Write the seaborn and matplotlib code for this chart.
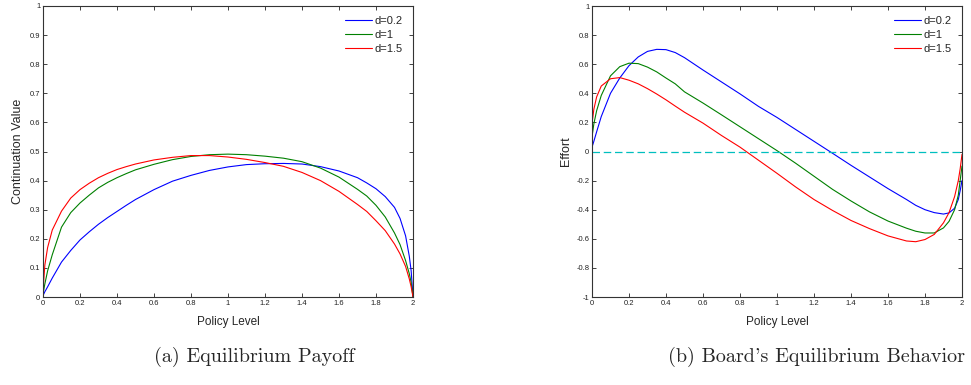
import numpy as np
import pandas as pd
import seaborn as sns
import matplotlib.pyplot as plt

# policy level grid
policy = [0, 0.01, 0.025, 0.05, 0.1, 0.15, 0.2, 0.25, 0.3, 0.35, 0.4, 0.45, 0.5, 0.6,
          0.7, 0.8, 0.9, 1.0, 1.1, 1.2, 1.3, 1.4, 1.5, 1.6, 1.7, 1.75, 1.8, 1.85,
          1.9, 1.93, 1.96, 1.98, 1.99, 2.0]

# (a) continuation value
payoff_d02 = [0.005, 0.018, 0.035, 0.065, 0.12, 0.16, 0.196, 0.224, 0.25, 0.273, 0.294,
              0.315, 0.335, 0.369, 0.398, 0.418, 0.435, 0.447, 0.455, 0.458, 0.459,
              0.457, 0.448, 0.433, 0.41, 0.392, 0.372, 0.345, 0.308, 0.27, 0.21,
              0.14, 0.09, 0.0]
payoff_d1 = [0.01, 0.045, 0.09, 0.145, 0.24, 0.29, 0.323, 0.35, 0.375, 0.394, 0.41,
             0.424, 0.437, 0.456, 0.472, 0.483, 0.489, 0.491, 0.489, 0.484, 0.477,
             0.465, 0.443, 0.412, 0.37, 0.347, 0.315, 0.275, 0.22, 0.18, 0.125,
             0.08, 0.05, 0.0]
payoff_d15 = [0.02, 0.11, 0.17, 0.23, 0.295, 0.34, 0.369, 0.391, 0.41, 0.425, 0.438,
              0.448, 0.457, 0.471, 0.48, 0.486, 0.486, 0.481, 0.473, 0.462, 0.449,
              0.428, 0.4, 0.363, 0.318, 0.294, 0.262, 0.228, 0.182, 0.148, 0.105,
              0.062, 0.035, 0.0]

# (b) board's effort
effort_d02 = [0.03, 0.07, 0.135, 0.24, 0.40, 0.505, 0.59, 0.65, 0.688, 0.702, 0.70,
              0.68, 0.645, 0.56, 0.478, 0.396, 0.31, 0.234, 0.152, 0.07, -0.012,
              -0.095, -0.175, -0.255, -0.33, -0.37, -0.4, -0.42, -0.43, -0.422,
              -0.39, -0.33, -0.27, -0.2]
effort_d1 = [0.10, 0.19, 0.28, 0.385, 0.52, 0.583, 0.607, 0.604, 0.58, 0.547, 0.505,
             0.465, 0.41, 0.333, 0.252, 0.17, 0.088, 0.006, -0.08, -0.17, -0.26,
             -0.34, -0.415, -0.478, -0.527, -0.548, -0.56, -0.56, -0.525, -0.48,
             -0.4, -0.3, -0.2, -0.1]
effort_d15 = [0.19, 0.29, 0.375, 0.45, 0.50, 0.508, 0.49, 0.465, 0.432, 0.395, 0.355,
              0.312, 0.27, 0.195, 0.11, 0.03, -0.06, -0.15, -0.243, -0.33, -0.405,
              -0.474, -0.53, -0.58, -0.615, -0.62, -0.605, -0.57, -0.49, -0.42,
              -0.31, -0.2, -0.12, -0.02]

labels = ["d=0.2", "d=1", "d=1.5"]
colors = ["#0000ff", "#008000", "#ff0000"]

def long_frame(series):
    parts = []
    for lab, vals in zip(labels, series):
        parts.append(pd.DataFrame({"x": policy, "v": vals, "d": lab}))
    return pd.concat(parts, ignore_index=True)

df_pay = long_frame([payoff_d02, payoff_d1, payoff_d15])
df_eff = long_frame([effort_d02, effort_d1, effort_d15])

sns.set_style("white")
plt.rcParams["font.family"] = ["Liberation Sans", "DejaVu Sans"]
plt.rcParams["axes.unicode_minus"] = False

fig = plt.figure(figsize=(9.71, 3.85), dpi=100)
ax1 = fig.add_axes([43 / 971, 1 - 297 / 385, 370 / 971, 291 / 385])
ax2 = fig.add_axes([592 / 971, 1 - 297 / 385, 370 / 971, 291 / 385])

for ax, df in [(ax1, df_pay), (ax2, df_eff)]:
    sns.lineplot(data=df, x="x", y="v", hue="d", hue_order=labels, palette=colors,
                 estimator=None, sort=False, linewidth=0.8, ax=ax)

ax2.axhline(0, color="#00bfbf", linestyle=(0, (6, 3)), linewidth=0.9)

ax1.set_ylim(0, 1)
ax1.set_yticks(np.arange(0, 1.01, 0.1))
ax1.set_yticklabels(["0", "0.1", "0.2", "0.3", "0.4", "0.5", "0.6", "0.7", "0.8", "0.9", "1"])
ax1.set_ylabel("Continuation Value", fontsize=9, labelpad=4)

ax2.set_ylim(-1, 1)
ax2.set_yticks(np.arange(-1, 1.01, 0.2))
ax2.set_yticklabels(["-1", "-0.8", "-0.6", "-0.4", "-0.2", "0", "0.2", "0.4", "0.6", "0.8", "1"])
ax2.set_ylabel("Effort", fontsize=9, labelpad=3)

xt = ["0", "0.2", "0.4", "0.6", "0.8", "1", "1.2", "1.4", "1.6", "1.8", "2"]
for ax in (ax1, ax2):
    ax.set_xlim(0, 2)
    ax.set_xticks(np.arange(0, 2.01, 0.2))
    ax.set_xticklabels(xt)
    ax.set_xlabel("Policy Level", fontsize=8.5, labelpad=7)
    ax.tick_params(direction="in", length=3, width=0.6, labelsize=5.5, pad=2,
                   top=True, right=True, bottom=True, left=True, colors="#222222")
    for sp in ax.spines.values():
        sp.set_color("#333333")
        sp.set_linewidth(0.8)
    ax.legend(loc="upper right", frameon=False, fontsize=8, handlelength=2.4,
              handletextpad=0.25, labelspacing=0.35, borderaxespad=0.5)

fig.text(254 / 971, 1 - 357 / 385, "(a) Equilibrium Payoff", family=["cmr10", "DejaVu Serif"],
         fontsize=14.5, ha="center", va="center")
fig.text(816 / 971, 1 - 357 / 385, "(b) Board's Equilibrium Behavior",
         family=["cmr10", "DejaVu Serif"], fontsize=14.5, ha="center", va="center")

fig.savefig("out.png", dpi=100)
